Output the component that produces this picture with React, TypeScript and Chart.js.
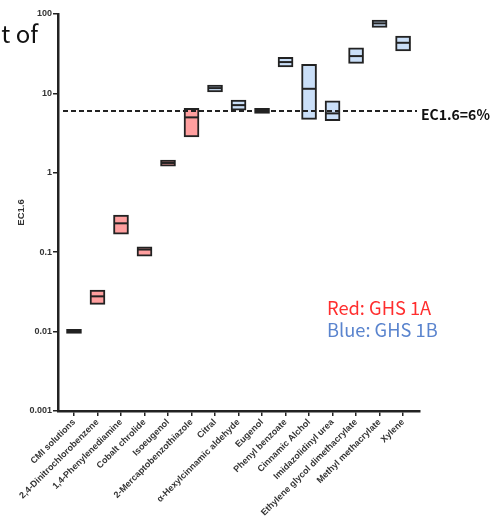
import { useEffect, useRef } from "react";
import { Chart, registerables } from "chart.js";

Chart.register(...registerables);

const categories = [
  "CMI solutions",
  "2,4-Dinitrochlorobenzene",
  "1,4-Phenylenediamine",
  "Cobalt chrolide",
  "Isoeugenol",
  "2-Mercaptobenzothiazole",
  "Citral",
  "α-Hexylcinnamic aldehyde",
  "Eugenol",
  "Phenyl benzoate",
  "Cinnamic Alchol",
  "Imidazolidinyl urea",
  "Ethylene glycol dimethacrylate",
  "Methyl methacrylate",
  "Xylene",
];
const ghsClass = ["1A", "1A", "1A", "1A", "1A", "1A", "1B", "1B", "1B", "1B", "1B", "1B", "1B", "1B", "1B"];
const minValues = [0.0095, 0.022, 0.169, 0.0893, 1.214, 2.84, 10.47, 6.16, 5.61, 21.6, 4.7, 4.52, 23.9, 67.8, 34.4];
const maxValues = [0.0107, 0.0333, 0.293, 0.117, 1.445, 6.47, 12.72, 8.23, 6.47, 28.4, 23.2, 8.07, 37.5, 83.8, 52.7];
const medianValues = [0.01, 0.0278, 0.231, 0.108, 1.33, 4.99, 11.66, 7.12, 6.0, 24.8, 11.43, 5.6, 29.5, 76.2, 43.4];
const yTickValues = [0.001, 0.01, 0.1, 1, 10, 100];
const yTickLabels = ["0.001", "0.01", "0.1", "1", "10", "100"];
const THRESHOLD = 6;
const thresholdLabel = "EC1.6=6%";
const yTitle = "EC1.6";
const titleFragment = "t of";
const legendLines = ["Red: GHS 1A", "Blue: GHS 1B"];

const RED_FILL = "#FF9F9F";
const BLUE_FILL = "#CADFF8";
const INK = "#222222";

const overlayPlugin = {
  id: "overlay",
  afterDatasetsDraw(chart: any) {
    const { ctx, chartArea, scales } = chart;
    const y = scales.y.getPixelForValue(THRESHOLD);
    ctx.save();
    ctx.strokeStyle = INK;
    ctx.lineWidth = 2;
    ctx.setLineDash([5, 3]);
    ctx.beginPath();
    ctx.moveTo(chartArea.left + 5, y);
    ctx.lineTo(chartArea.right - 3, y);
    ctx.stroke();
    ctx.setLineDash([]);
    ctx.fillStyle = "#111";
    ctx.textAlign = "left";
    ctx.textBaseline = "alphabetic";
    ctx.font = 'bold 14px "Noto Sans CJK JP"';
    ctx.fillText(thresholdLabel, chartArea.right + 1, y + 8.5);

    ctx.font = '24px "Noto Sans CJK JP"';
    ctx.textAlign = "right";
    ctx.fillStyle = "#111";
    ctx.fillText(titleFragment, 38, 43);

    ctx.textAlign = "left";
    ctx.font = '18.3px "Noto Sans CJK JP"';
    ctx.fillStyle = "#FF2E2E";
    ctx.fillText(legendLines[0], 327, 314.5);
    ctx.fillStyle = "#5A84CE";
    ctx.fillText(legendLines[1], 327, 336.5);
    ctx.restore();
  },
};

export default function App() {
  const ref = useRef<HTMLCanvasElement>(null);
  useEffect(() => {
    if (!ref.current) return;
    const tickFont = { family: '"Liberation Sans", Arial, sans-serif', size: 9, weight: "bold" as const };
    const chart = new Chart(ref.current, {
      type: "bar",
      data: {
        datasets: [
          {
            type: "scatter" as any,
            data: categories.map((_, i) => ({ x: i, y: medianValues[i] })),
            pointStyle: "line",
            pointRadius: 7,
            pointHoverRadius: 7,
            borderColor: INK,
            pointBorderColor: INK,
            pointBorderWidth: 2,
            order: 0,
          } as any,
          {
            type: "bar",
            data: categories.map((_, i) => ({ x: i, y: [minValues[i], maxValues[i]] })) as any,
            backgroundColor: ghsClass.map((g) => (g === "1A" ? RED_FILL : BLUE_FILL)),
            borderColor: INK,
            borderWidth: 2,
            borderSkipped: false,
            barThickness: 15,
            order: 1,
          } as any,
        ],
      },
      options: {
        animation: false,
        responsive: false,
        maintainAspectRatio: false,
        layout: { padding: { left: 0, top: 14, right: 72, bottom: 0 } },
        plugins: { legend: { display: false }, tooltip: { enabled: false } },
        scales: {
          x: {
            type: "linear",
            offset: false,
            min: -0.68,
            max: 14.72,
            afterBuildTicks: (scale: any) => {
              scale.ticks = categories.map((_, i) => ({ value: i }));
            },
            afterFit: (scale: any) => {
              scale.height = 109;
            },
            ticks: {
              autoSkip: false,
              minRotation: 45,
              maxRotation: 45,
              padding: 1,
              color: "#333",
              font: tickFont,
              callback: (_v: any, i: number) => categories[i],
            },
            grid: { display: true, offset: false, drawOnChartArea: false, drawTicks: true, tickLength: 5, color: INK, lineWidth: 1.5 },
            border: { display: true, color: INK, width: 2.5 },
          },
          y: {
            type: "logarithmic",
            min: 0.001,
            max: 100,
            afterBuildTicks: (scale: any) => {
              scale.ticks = yTickValues.map((v) => ({ value: v }));
            },
            afterFit: (scale: any) => {
              scale.width = 58;
            },
            ticks: {
              padding: 1,
              color: "#333",
              font: tickFont,
              callback: (_v: any, i: number) => yTickLabels[i],
            },
            title: {
              display: true,
              text: yTitle,
              color: "#333",
              font: { family: '"Liberation Sans", Arial, sans-serif', size: 9.5, weight: "bold" },
              padding: { top: 16, bottom: 0 },
            },
            grid: { display: true, drawOnChartArea: false, drawTicks: true, tickLength: 5, color: INK, lineWidth: 1.5 },
            border: { display: true, color: INK, width: 2.5 },
          },
        },
      } as any,
      plugins: [overlayPlugin],
    });
    return () => chart.destroy();
  }, []);
  return (
    <div style={{ position: "fixed", left: 0, top: 0, width: 492, height: 520, background: "#fff" }}>
      <canvas ref={ref} width={492} height={520} style={{ width: 492, height: 520 }} />
    </div>
  );
}
